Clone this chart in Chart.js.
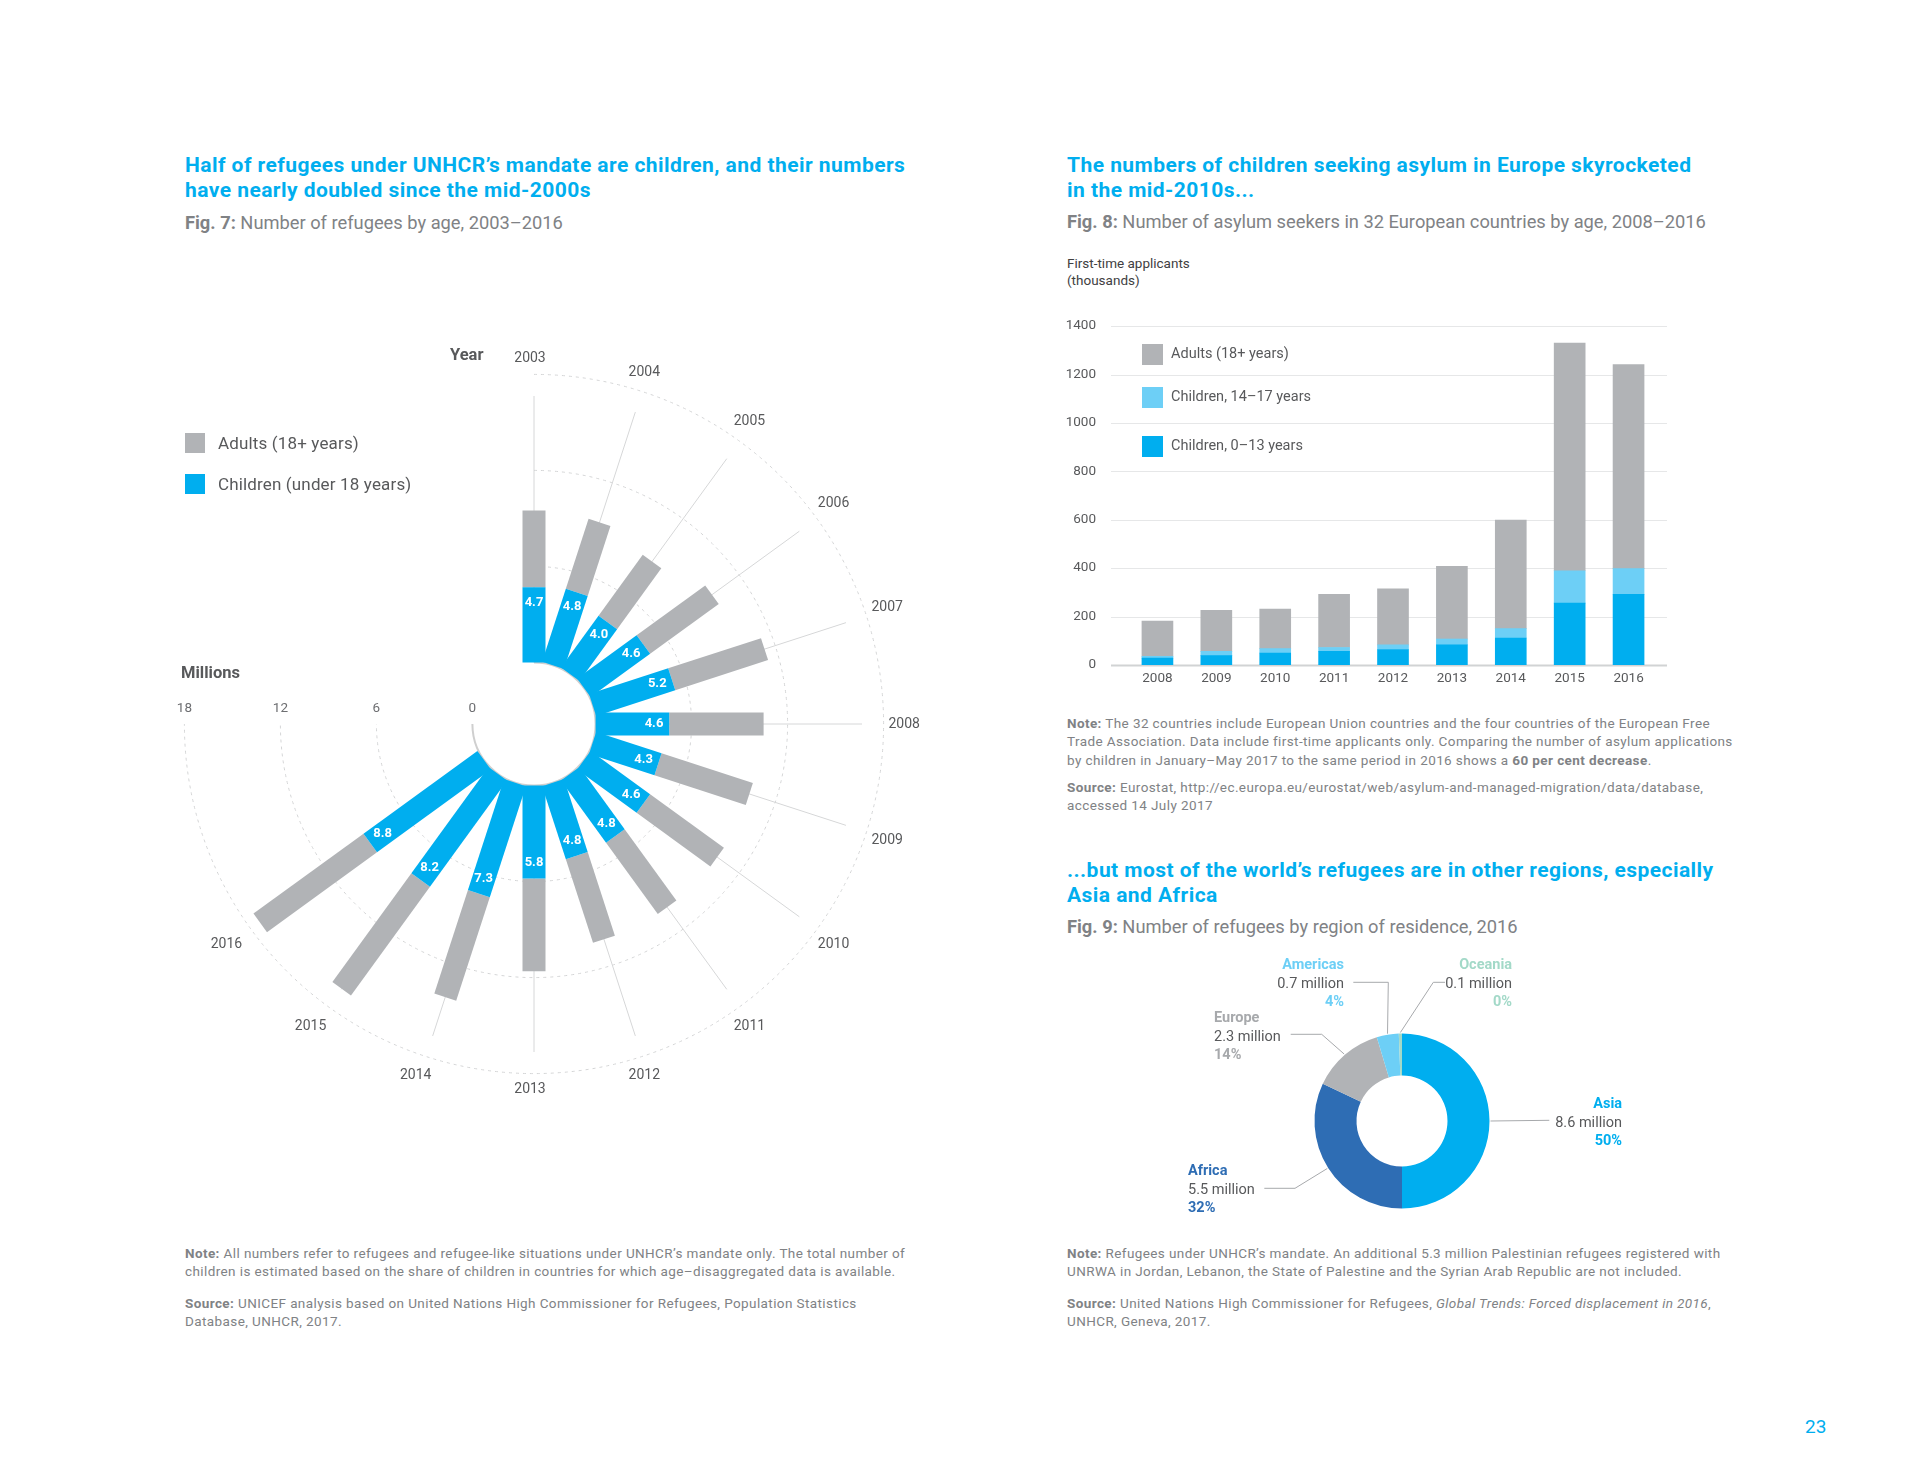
<!DOCTYPE html>
<html>
<head>
<meta charset="utf-8">
<script src="https://cdn.jsdelivr.net/npm/chart.js@4.4.1/dist/chart.umd.min.js"></script>
<style>
  body { margin: 0; width: 1920px; height: 1474px; background: #fff; position: relative; overflow: hidden;
         font-family: Roboto, "Liberation Sans", sans-serif; color: #58595b; }
  .abs { position: absolute; white-space: nowrap; }
  .title { color: #00aeef; font-weight: bold; font-size: 21px; line-height: 24.6px; letter-spacing: 0.45px; }
  .fig { color: #808285; font-size: 18.3px; line-height: 22px; }
  .note { color: #808285; font-size: 13.5px; line-height: 18.4px; letter-spacing: 0.4px; }
  .sq { position: absolute; }
  .lbl { font-size: 14.5px; line-height: 18.5px; }
  .box { position: absolute; }
</style>
</head>
<body>

<!-- LEFT COLUMN -->
<div class="abs title" style="left:185px;top:153px">Half of refugees under UNHCR’s mandate are children, and their numbers<br>have nearly doubled since the mid-2000s</div>
<div class="abs fig" style="left:185px;top:212px"><b>Fig. 7:</b> Number of refugees by age, 2003–2016</div>

<div class="box" style="left:134px;top:323.5px;width:800px;height:800px"><canvas id="radial"></canvas></div>

<div class="sq" style="left:185px;top:433px;width:20px;height:20px;background:#b1b3b6"></div>
<div class="abs" style="left:218px;top:432px;font-size:17px;line-height:22px;letter-spacing:0.15px">Adults (18+ years)</div>
<div class="sq" style="left:185px;top:474px;width:20px;height:20px;background:#00aeef"></div>
<div class="abs" style="left:218px;top:473px;font-size:17px;line-height:22px;letter-spacing:0.15px">Children (under 18 years)</div>

<div class="abs" style="left:450px;top:344px;font-size:16.5px;line-height:22px;font-weight:bold;color:#58595b">Year</div>
<div class="abs" style="left:181px;top:662px;font-size:16.5px;line-height:22px;font-weight:bold;color:#58595b">Millions</div>

<div class="abs note" style="left:185px;top:1244px"><b>Note:</b> All numbers refer to refugees and refugee-like situations under UNHCR’s mandate only. The total number of<br>children is estimated based on the share of children in countries for which age–disaggregated data is available.</div>
<div class="abs note" style="left:185px;top:1294px"><b>Source:</b> UNICEF analysis based on United Nations High Commissioner for Refugees, Population Statistics<br>Database, UNHCR, 2017.</div>

<!-- RIGHT COLUMN -->
<div class="abs title" style="left:1067px;top:153px">The numbers of children seeking asylum in Europe skyrocketed<br>in the mid-2010s...</div>
<div class="abs fig" style="left:1067px;top:211px"><b>Fig. 8:</b> Number of asylum seekers in 32 European countries by age, 2008–2016</div>
<div class="abs" style="left:1067px;top:255px;font-size:13.5px;line-height:17px;color:#414042">First-time applicants<br>(thousands)</div>

<div class="box" style="left:1060px;top:286.4px;width:620px;height:419px"><canvas id="bars"></canvas></div>

<div class="sq" style="left:1142px;top:344px;width:21px;height:21px;background:#b1b3b6"></div>
<div class="abs lbl" style="left:1171px;top:345px">Adults (18+ years)</div>
<div class="sq" style="left:1142px;top:387px;width:21px;height:21px;background:#6dcff6"></div>
<div class="abs lbl" style="left:1171px;top:388px">Children, 14–17 years</div>
<div class="sq" style="left:1142px;top:436px;width:21px;height:21px;background:#00aeef"></div>
<div class="abs lbl" style="left:1171px;top:437px">Children, 0–13 years</div>

<div class="abs note" style="left:1067px;top:714px"><b>Note:</b> The 32 countries include European Union countries and the four countries of the European Free<br>Trade Association. Data include first-time applicants only. Comparing the number of asylum applications<br>by children in January–May 2017 to the same period in 2016 shows a <b>60 per cent decrease</b>.</div>
<div class="abs note" style="left:1067px;top:778px"><b>Source:</b> Eurostat, http://ec.europa.eu/eurostat/web/asylum-and-managed-migration/data/database,<br>accessed 14 July 2017</div>

<div class="abs title" style="left:1067px;top:858px">...but most of the world’s refugees are in other regions, especially<br>Asia and Africa</div>
<div class="abs fig" style="left:1067px;top:916px"><b>Fig. 9:</b> Number of refugees by region of residence, 2016</div>

<div class="box" style="left:1180px;top:950px;width:480px;height:280px"><canvas id="donut"></canvas></div>

<div class="abs lbl" style="right:576px;top:956px;text-align:right"><b style="color:#6dcff6">Americas</b><br>0.7 million<br><b style="color:#6dcff6">4%</b></div>
<div class="abs lbl" style="right:408px;top:956px;text-align:right"><b style="color:#a3d9c8">Oceania</b><br>0.1 million<br><b style="color:#a3d9c8">0%</b></div>
<div class="abs lbl" style="left:1214px;top:1009px"><b style="color:#a7a9ac">Europe</b><br>2.3 million<br><b style="color:#a7a9ac">14%</b></div>
<div class="abs lbl" style="right:298px;top:1095px;text-align:right"><b style="color:#00aeef">Asia</b><br>8.6 million<br><b style="color:#00aeef">50%</b></div>
<div class="abs lbl" style="left:1188px;top:1162px"><b style="color:#2e6db4">Africa</b><br>5.5 million<br><b style="color:#2e6db4">32%</b></div>

<div class="abs note" style="left:1067px;top:1244px"><b>Note:</b> Refugees under UNHCR’s mandate. An additional 5.3 million Palestinian refugees registered with<br>UNRWA in Jordan, Lebanon, the State of Palestine and the Syrian Arab Republic are not included.</div>
<div class="abs note" style="left:1067px;top:1294px"><b>Source:</b> United Nations High Commissioner for Refugees, <i>Global Trends: Forced displacement in 2016</i>,<br>UNHCR, Geneva, 2017.</div>

<div class="abs" style="left:1805px;top:1415px;font-size:19px;line-height:24px;color:#00aeef">23</div>

<script>
Chart.defaults.font.family = "Roboto, 'Liberation Sans', sans-serif";
Chart.defaults.color = "#58595b";

// FIG 7 - refugees by age (millions)
const years = ["2003", "2004", "2005", "2006", "2007", "2008", "2009", "2010", "2011", "2012", "2013", "2014", "2015", "2016"];
const childrenM = [4.7, 4.8, 4.0, 4.6, 5.2, 4.6, 4.3, 4.6, 4.8, 4.8, 5.8, 7.3, 8.2, 8.8];
const adultsM = [4.8, 4.6, 4.7, 5.3, 6.1, 5.9, 6.0, 5.7, 5.5, 5.5, 5.8, 6.8, 8.4, 8.5];
const ringTicks = [0, 6, 12, 18];

// FIG 8 - asylum seekers (thousands)
const barYears = ["2008", "2009", "2010", "2011", "2012", "2013", "2014", "2015", "2016"];
const kids0to13 = [28, 38, 49, 56, 63, 83, 111, 255, 292];
const kids14to17 = [7, 18, 18, 16, 20, 24, 39, 134, 106];
const adultsK = [146, 169, 164, 220, 231, 300, 448, 941, 843];

// FIG 9 - refugees by region (millions)
const regions = ["Asia", "Africa", "Europe", "Americas", "Oceania"];
const regionValues = [8.6, 5.5, 2.3, 0.7, 0.1];

const BLUE = "#00aeef", LIGHT = "#6dcff6", GREY = "#b1b3b6", DARK = "#2e6db4";

// RADIAL BAR CHART
const holeR = 3.85;      // inner hole, in millions
const stepDeg = 18;      // angle between years
const spokeR = 20.5;
const yearLabelR = 22.4;

function polar(r, i) {
  const a = i * stepDeg * Math.PI / 180;
  return { x: r * Math.sin(a), y: r * Math.cos(a) };
}

const radialSets = [];
years.forEach((yr, i) => {
  const mid = holeR + childrenM[i];
  radialSets.push({ data: [polar(holeR, i), polar(mid, i)], borderColor: BLUE });
  radialSets.push({ data: [polar(mid, i), polar(mid + adultsM[i], i)], borderColor: GREY });
});

const radialDeco = {
  id: "radialDeco",
  beforeDatasetsDraw(chart) {
    const { ctx, scales: { x, y } } = chart;
    const cx = x.getPixelForValue(0), cy = y.getPixelForValue(0);
    const unit = x.getPixelForValue(1) - cx;
    ctx.save();
    // dotted rings
    ctx.strokeStyle = "#d4d5d6";
    ctx.lineWidth = 1;
    ctx.setLineDash([3, 4]);
    ringTicks.slice(1).forEach(v => {
      ctx.beginPath();
      ctx.arc(cx, cy, (holeR + v) * unit, -Math.PI / 2, Math.PI);
      ctx.stroke();
    });
    ctx.setLineDash([]);
    // spokes
    ctx.strokeStyle = "#d6d7d8";
    years.forEach((yr, i) => {
      const p = polar(spokeR, i);
      ctx.beginPath();
      ctx.moveTo(cx, cy);
      ctx.lineTo(x.getPixelForValue(p.x), y.getPixelForValue(p.y));
      ctx.stroke();
    });
    // hole
    ctx.fillStyle = "#fff";
    ctx.beginPath();
    ctx.arc(cx, cy, holeR * unit, 0, Math.PI * 2);
    ctx.fill();
    ctx.strokeStyle = "#cfcfcf";
    ctx.lineWidth = 2;
    ctx.beginPath();
    ctx.arc(cx, cy, holeR * unit, -Math.PI / 2, Math.PI);
    ctx.stroke();
    // year labels, pushed out by their own half size
    ctx.fillStyle = "#58595b";
    ctx.font = "14px Roboto, 'Liberation Sans', sans-serif";
    ctx.textAlign = "center";
    ctx.textBaseline = "middle";
    years.forEach((yr, i) => {
      const a = i * stepDeg * Math.PI / 180;
      const halfW = ctx.measureText(yr).width / 2;
      const extra = (halfW * Math.abs(Math.sin(a)) + 7 * Math.abs(Math.cos(a))) / unit;
      const p = polar(yearLabelR + extra, i);
      ctx.fillText(yr, x.getPixelForValue(p.x) - 4, y.getPixelForValue(p.y));
    });
    // ring tick labels along the left
    ctx.fillStyle = "#6d6e71";
    ctx.font = "13.5px Roboto, 'Liberation Sans', sans-serif";
    ringTicks.forEach(v => {
      ctx.fillText(String(v), x.getPixelForValue(-(holeR + v)), cy - 15.5);
    });
    ctx.restore();
  },
  afterDatasetsDraw(chart) {
    const { ctx, scales: { x, y } } = chart;
    ctx.save();
    ctx.fillStyle = "#fff";
    ctx.font = "bold 13px Roboto, 'Liberation Sans', sans-serif";
    ctx.textAlign = "center";
    ctx.textBaseline = "middle";
    childrenM.forEach((v, i) => {
      const p = polar(holeR + v - 0.95, i);
      ctx.fillText(v.toFixed(1), x.getPixelForValue(p.x), y.getPixelForValue(p.y));
    });
    ctx.restore();
  }
};

new Chart(document.getElementById("radial"), {
  type: "scatter",
  data: { datasets: radialSets },
  options: {
    responsive: true,
    maintainAspectRatio: false,
    animation: false,
    datasets: { scatter: { showLine: true, borderWidth: 23, borderCapStyle: "butt", pointRadius: 0 } },
    layout: { padding: 0 },
    scales: {
      x: { type: "linear", min: -25, max: 25, display: false },
      y: { type: "linear", min: -25, max: 25, display: false }
    },
    plugins: { legend: { display: false }, tooltip: { enabled: false } }
  },
  plugins: [radialDeco]
});

// STACKED BARS
const wideGrid = {
  id: "wideGrid",
  beforeDatasetsDraw(chart) {
    const { ctx, chartArea, scales: { y } } = chart;
    ctx.save();
    y.ticks.forEach(t => {
      const py = Math.round(y.getPixelForValue(t.value)) + 0.5;
      ctx.strokeStyle = t.value === 0 ? "#d1d3d4" : "#e6e7e8";
      ctx.lineWidth = t.value === 0 ? 2 : 1.2;
      ctx.beginPath();
      ctx.moveTo(chartArea.left - 17, py);
      ctx.lineTo(chartArea.right + 9, py);
      ctx.stroke();
    });
    ctx.restore();
  }
};

new Chart(document.getElementById("bars"), {
  type: "bar",
  data: {
    labels: barYears,
    datasets: [
      { label: "Children, 0–13 years", data: kids0to13, backgroundColor: BLUE },
      { label: "Children, 14–17 years", data: kids14to17, backgroundColor: LIGHT },
      { label: "Adults (18+ years)", data: adultsK, backgroundColor: GREY }
    ]
  },
  options: {
    responsive: true,
    maintainAspectRatio: false,
    animation: false,
    barThickness: 31,
    layout: { padding: { top: 14, right: 22, bottom: 8, left: 0 } },
    scales: {
      x: {
        stacked: true,
        grid: { display: false, drawTicks: false },
        border: { display: false },
        ticks: { padding: 6, font: { size: 13.5 }, color: "#58595b" }
      },
      y: {
        stacked: true,
        min: 0, max: 1400,
        grid: { display: false, drawTicks: false },
        border: { display: false },
        ticks: { stepSize: 200, padding: 32, font: { size: 13.5 }, color: "#58595b", callback: v => String(v) },
        afterFit(scale) { scale.width = 68; }
      }
    },
    plugins: { legend: { display: false }, tooltip: { enabled: false } }
  },
  plugins: [wideGrid]
});

// DONUT
const donutBox = { left: 1180, top: 950 };
const leaders = [
  { via: [[1549.3, 1120.3]] },                        // Asia
  { via: [[1295, 1188.3], [1264.3, 1188.3]] },        // Africa
  { via: [[1321.7, 1034.3], [1290.7, 1034.3]] },      // Europe
  { via: [[1388.3, 982.3], [1353.3, 982.3]] },        // Americas
  { via: [[1433.3, 982.3], [1445, 982.3]] }           // Oceania
];

const leaderLines = {
  id: "leaderLines",
  afterDatasetsDraw(chart) {
    const { ctx } = chart;
    const arcs = chart.getDatasetMeta(0).data;
    ctx.save();
    ctx.strokeStyle = "#a7a9ac";
    ctx.lineWidth = 1;
    arcs.forEach((arc, i) => {
      const { x, y, startAngle, endAngle, outerRadius } = arc.getProps(["x", "y", "startAngle", "endAngle", "outerRadius"], true);
      const a = (startAngle + endAngle) / 2;
      ctx.beginPath();
      ctx.moveTo(x + Math.cos(a) * (outerRadius + 1), y + Math.sin(a) * (outerRadius + 1));
      leaders[i].via.forEach(p => ctx.lineTo(p[0] - donutBox.left, p[1] - donutBox.top));
      ctx.stroke();
    });
    ctx.restore();
  }
};

new Chart(document.getElementById("donut"), {
  type: "doughnut",
  data: {
    labels: regions,
    datasets: [{
      data: regionValues,
      backgroundColor: [BLUE, DARK, GREY, LIGHT, "#a3d9c8"],
      borderWidth: 0
    }]
  },
  options: {
    responsive: true,
    maintainAspectRatio: false,
    animation: false,
    cutout: "52%",
    layout: { padding: { left: 134.5, right: 170.5, top: 83.5, bottom: 21.5 } },
    plugins: { legend: { display: false }, tooltip: { enabled: false } }
  },
  plugins: [leaderLines]
});
</script>
</body>
</html>
